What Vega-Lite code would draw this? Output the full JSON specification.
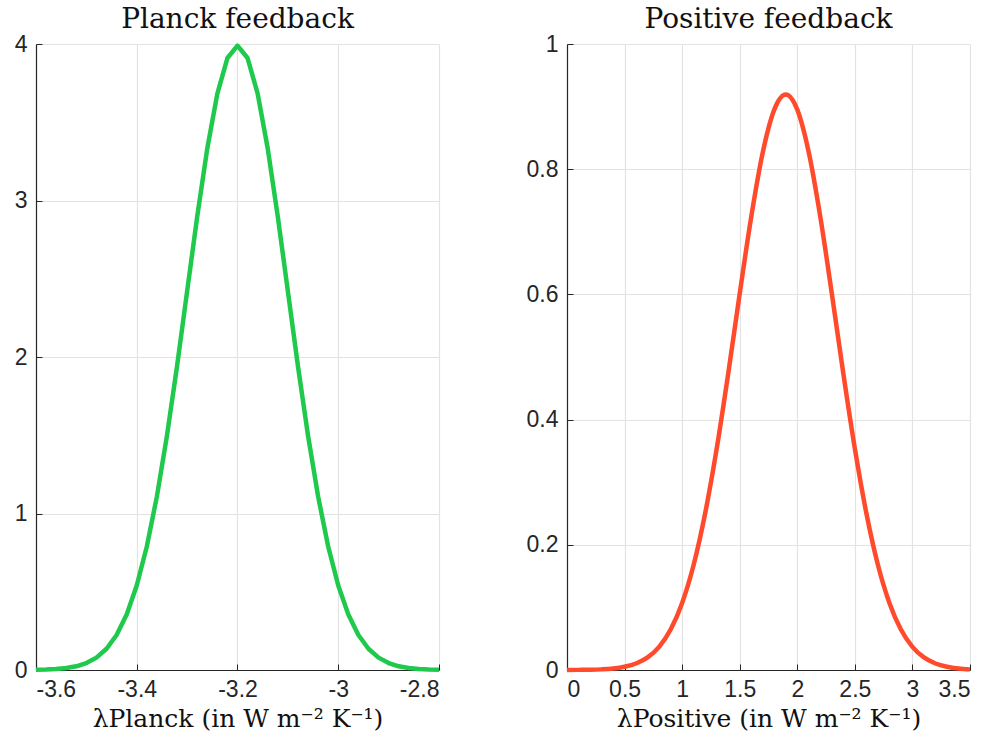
{
  "$schema": "https://vega.github.io/schema/vega-lite/v6.json",
  "background": "white",
  "padding": {"left": 14, "top": 6, "right": 18, "bottom": 4},
  "bounds": "flush",
  "spacing": 128,
  "config": {
    "view": {"stroke": null},
    "axis": {
      "labelFont": "Liberation Sans",
      "labelFontSize": 23,
      "labelColor": "#262626",
      "domainColor": "#262626",
      "domainWidth": 1.2,
      "tickColor": "#262626",
      "tickSize": -6,
      "gridColor": "#e3e3e3",
      "gridWidth": 1.2,
      "titleFont": "DejaVu Serif",
      "titleFontSize": 25,
      "titleFontWeight": "normal",
      "titleColor": "#111111"
    },
    "title": {"font": "DejaVu Serif", "fontSize": 28, "fontWeight": "normal", "color": "#111111", "offset": -1}
  },
  "hconcat": [
    {
      "title": "Planck feedback",
      "width": 403,
      "height": 626,
      "data": {"values": [
        {"x": -3.6, "y": 0.0013}, {"x": -3.58, "y": 0.0029}, {"x": -3.56, "y": 0.0061}, {"x": -3.54, "y": 0.0123},
        {"x": -3.52, "y": 0.0238}, {"x": -3.5, "y": 0.0443}, {"x": -3.48, "y": 0.0792}, {"x": -3.46, "y": 0.1358},
        {"x": -3.44, "y": 0.2239}, {"x": -3.42, "y": 0.3547}, {"x": -3.4, "y": 0.5399}, {"x": -3.38, "y": 0.7895},
        {"x": -3.36, "y": 1.1092}, {"x": -3.34, "y": 1.4973}, {"x": -3.32, "y": 1.9419}, {"x": -3.3, "y": 2.4197},
        {"x": -3.28, "y": 2.8969}, {"x": -3.26, "y": 3.3322}, {"x": -3.24, "y": 3.6827}, {"x": -3.22, "y": 3.9104},
        {"x": -3.2, "y": 3.9894}, {"x": -3.18, "y": 3.9104}, {"x": -3.16, "y": 3.6827}, {"x": -3.14, "y": 3.3322},
        {"x": -3.12, "y": 2.8969}, {"x": -3.1, "y": 2.4197}, {"x": -3.08, "y": 1.9419}, {"x": -3.06, "y": 1.4973},
        {"x": -3.04, "y": 1.1092}, {"x": -3.02, "y": 0.7895}, {"x": -3.0, "y": 0.5399}, {"x": -2.98, "y": 0.3547},
        {"x": -2.96, "y": 0.2239}, {"x": -2.94, "y": 0.1358}, {"x": -2.92, "y": 0.0792}, {"x": -2.9, "y": 0.0443},
        {"x": -2.88, "y": 0.0238}, {"x": -2.86, "y": 0.0123}, {"x": -2.84, "y": 0.0061}, {"x": -2.82, "y": 0.0029},
        {"x": -2.8, "y": 0.0013}
      ]},
      "mark": {"type": "line", "color": "#1ec94c", "strokeWidth": 4.5, "strokeJoin": "round", "clip": false},
      "encoding": {
        "x": {"field": "x", "type": "quantitative",
              "scale": {"domain": [-3.6, -2.8], "nice": false, "zero": false},
              "axis": {"values": [-3.6, -3.4, -3.2, -3.0, -2.8],
                       "labelExpr": "datum.value < 0 ? '-' + format(-datum.value, '~g') : format(datum.value, '~g')",
                       "title": "λPlanck (in W m⁻² K⁻¹)", "labelPadding": 14, "titlePadding": 5}},
        "y": {"field": "y", "type": "quantitative",
              "scale": {"domain": [0, 4], "nice": false},
              "axis": {"values": [0, 1, 2, 3, 4], "title": null, "labelPadding": 15}}
      }
    },
    {
      "title": "Positive feedback",
      "width": 403,
      "height": 626,
      "data": {"values": [
        {"x": 0.0, "y": 0.0001}, {"x": 0.1, "y": 0.0002}, {"x": 0.2, "y": 0.0004}, {"x": 0.3, "y": 0.0010},
        {"x": 0.4, "y": 0.0023}, {"x": 0.5, "y": 0.0051}, {"x": 0.6, "y": 0.0104}, {"x": 0.7, "y": 0.0201},
        {"x": 0.8, "y": 0.0370}, {"x": 0.9, "y": 0.0646}, {"x": 1.0, "y": 0.1071}, {"x": 1.1, "y": 0.1681},
        {"x": 1.2, "y": 0.2504}, {"x": 1.3, "y": 0.3535}, {"x": 1.4, "y": 0.4734}, {"x": 1.5, "y": 0.6012},
        {"x": 1.6, "y": 0.7239}, {"x": 1.7, "y": 0.8267}, {"x": 1.8, "y": 0.8952}, {"x": 1.9, "y": 0.9193},
        {"x": 2.0, "y": 0.8952}, {"x": 2.1, "y": 0.8267}, {"x": 2.2, "y": 0.7239}, {"x": 2.3, "y": 0.6012},
        {"x": 2.4, "y": 0.4734}, {"x": 2.5, "y": 0.3535}, {"x": 2.6, "y": 0.2504}, {"x": 2.7, "y": 0.1681},
        {"x": 2.8, "y": 0.1071}, {"x": 2.9, "y": 0.0646}, {"x": 3.0, "y": 0.0370}, {"x": 3.1, "y": 0.0201},
        {"x": 3.2, "y": 0.0104}, {"x": 3.3, "y": 0.0051}, {"x": 3.4, "y": 0.0023}, {"x": 3.5, "y": 0.0010}
      ]},
      "mark": {"type": "line", "color": "#ff4a2c", "strokeWidth": 4.5, "strokeJoin": "round", "interpolate": "monotone", "clip": false},
      "encoding": {
        "x": {"field": "x", "type": "quantitative",
              "scale": {"domain": [0, 3.5], "nice": false},
              "axis": {"values": [0, 0.5, 1, 1.5, 2, 2.5, 3, 3.5], "format": "~g", "title": "λPositive (in W m⁻² K⁻¹)", "labelPadding": 14, "titlePadding": 5}},
        "y": {"field": "y", "type": "quantitative",
              "scale": {"domain": [0, 1], "nice": false},
              "axis": {"values": [0, 0.2, 0.4, 0.6, 0.8, 1], "format": "~g", "title": null, "labelPadding": 15}}
      }
    }
  ]
}
